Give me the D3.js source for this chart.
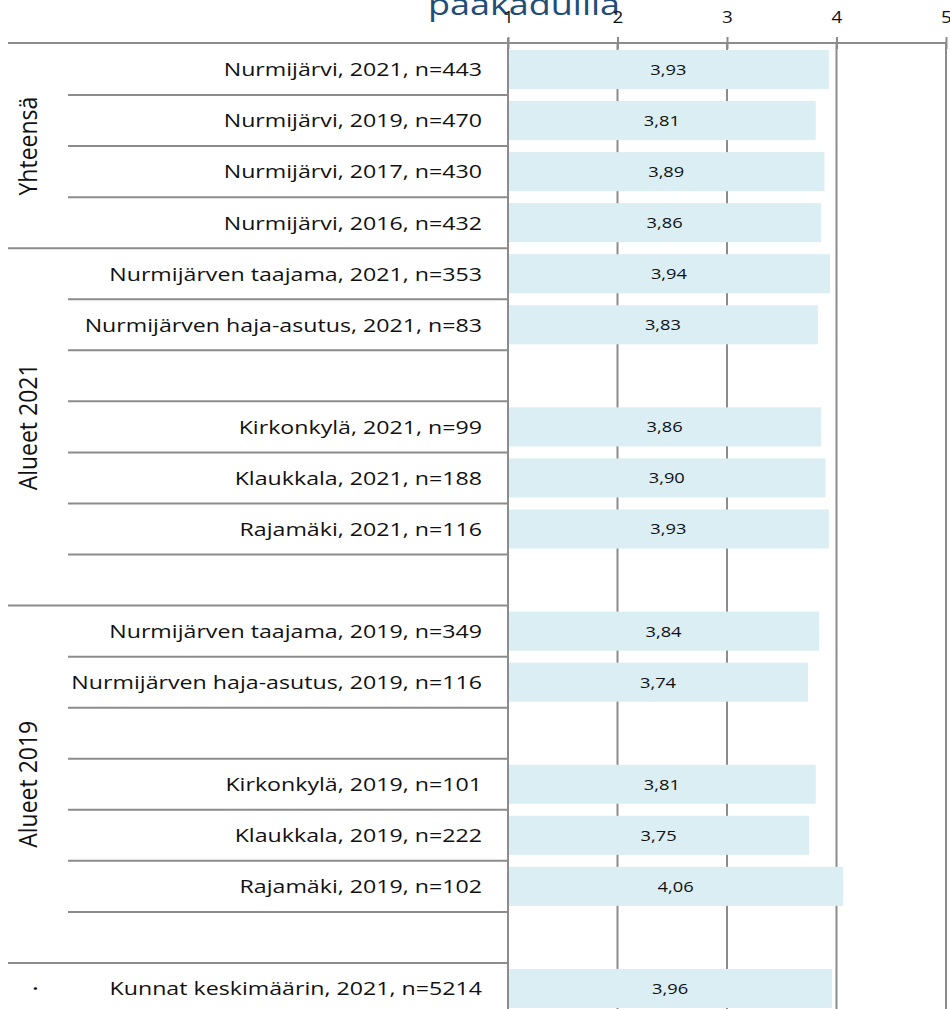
<!DOCTYPE html>
<html>
<head>
<meta charset="utf-8">
<script src="https://cdn.jsdelivr.net/npm/d3@7/dist/d3.min.js"></script>
<style>
  html, body { margin: 0; padding: 0; background: #fff; }
  svg { display: block; }
  text { font-family: "Open Sans", "Noto Sans", sans-serif; }
</style>
</head>
<body>
<svg id="chart" width="950" height="1009"></svg>
<script>
// ---- data ----
const titleText = "pääkaduilla";
const categories = [
  "Nurmijärvi, 2021, n=443",
  "Nurmijärvi, 2019, n=470",
  "Nurmijärvi, 2017, n=430",
  "Nurmijärvi, 2016, n=432",
  "Nurmijärven taajama, 2021, n=353",
  "Nurmijärven haja-asutus, 2021, n=83",
  "",
  "Kirkonkylä, 2021, n=99",
  "Klaukkala, 2021, n=188",
  "Rajamäki, 2021, n=116",
  "",
  "Nurmijärven taajama, 2019, n=349",
  "Nurmijärven haja-asutus, 2019, n=116",
  "",
  "Kirkonkylä, 2019, n=101",
  "Klaukkala, 2019, n=222",
  "Rajamäki, 2019, n=102",
  "",
  "Kunnat keskimäärin, 2021, n=5214"
];
const values = [3.93, 3.81, 3.89, 3.86, 3.94, 3.83, null, 3.86, 3.90, 3.93, null,
                3.84, 3.74, null, 3.81, 3.75, 4.06, null, 3.96];
const groupNames = ["Yhteensä", "Alueet 2021", "Alueet 2019", "."];
const groupSizes = [4, 7, 7, 1];
const tickValues = [1, 2, 3, 4, 5];

// ---- layout ----
const svg = d3.select("#chart");
const W = 950, H = 1009;
const plotLeft = 508, plotRight = 946, plotTop = 44, plotBottom = 1014;
const gray = "#8c8c8c";
const stretch = 1.22; // reference text is horizontally stretched

const x = d3.scaleLinear().domain([1, 5]).range([plotLeft, plotRight]);
const idx = d3.range(categories.length);
const yRow = d3.scaleBand().domain(idx).range([plotTop, plotBottom]).padding(0);
const yBar = d3.scaleBand().domain(idx).range([plotTop, plotBottom])
  .paddingInner(0.235).paddingOuter(0.1175);

const fmt = d3.formatLocale({decimal: ",", thousands: " ", grouping: [3], currency: ["", "€"]}).format(".2f");

// title (only lower part visible)
svg.append("text")
  .attr("transform", `translate(524,15) scale(${stretch},1)`)
  .attr("text-anchor", "middle")
  .attr("font-size", 29.5)
  .attr("fill", "#1f4e79")
  .text(titleText);

// gridlines (behind bars)
svg.append("g").selectAll("line").data(tickValues.slice(1)).join("line")
  .attr("x1", d => x(d)).attr("x2", d => x(d))
  .attr("y1", plotTop).attr("y2", H)
  .attr("stroke", gray).attr("stroke-width", 2);

// bars
svg.append("g").selectAll("rect").data(idx.filter(i => values[i] != null)).join("rect")
  .attr("x", x(1))
  .attr("y", i => yBar(i))
  .attr("width", i => x(values[i]) - x(1))
  .attr("height", yBar.bandwidth())
  .attr("fill", "#daeef3");

// value labels
svg.append("g").selectAll("text").data(idx.filter(i => values[i] != null)).join("text")
  .attr("transform", i => `translate(${(x(1) + x(values[i])) / 2},${yRow(i) + yRow.bandwidth() / 2}) scale(${stretch},1)`)
  .attr("dy", "0.36em")
  .attr("text-anchor", "middle")
  .attr("font-size", 15)
  .attr("fill", "#111")
  .text(i => fmt(values[i]));

// top axis
const axis = svg.append("g")
  .attr("transform", `translate(0,${plotTop - 1})`)
  .call(d3.axisTop(x).tickValues(tickValues).tickFormat(d3.format("d")).tickSizeOuter(0).tickSizeInner(5).tickPadding(4));
axis.select(".domain").remove();
axis.selectAll(".tick line").attr("y1", -6).attr("y2", 6).attr("stroke", gray).attr("stroke-width", 2);
axis.selectAll(".tick text")
  .attr("font-size", 15.5).attr("fill", "#111")
  .attr("font-family", "'Open Sans', sans-serif")
  .attr("y", null).attr("dy", null)
  .attr("transform", `translate(0,-20.5) scale(${stretch},1)`);
svg.append("line")
  .attr("x1", 8).attr("x2", plotRight).attr("y1", plotTop - 1).attr("y2", plotTop - 1)
  .attr("stroke", gray).attr("stroke-width", 2);

// vertical category axis
svg.append("line")
  .attr("x1", plotLeft).attr("x2", plotLeft).attr("y1", plotTop - 6).attr("y2", H)
  .attr("stroke", gray).attr("stroke-width", 2);

// row separators
const groupStarts = [];
let acc = 0;
groupSizes.forEach(s => { groupStarts.push(acc); acc += s; });
const boundaries = d3.range(1, categories.length + 1);
svg.append("g").selectAll("line").data(boundaries).join("line")
  .attr("x1", i => groupStarts.includes(i) || i === categories.length ? 8 : 68)
  .attr("x2", plotLeft)
  .attr("y1", i => yRow(i - 1) + yRow.step())
  .attr("y2", i => yRow(i - 1) + yRow.step())
  .attr("stroke", gray).attr("stroke-width", 2);

// category labels
svg.append("g").selectAll("text").data(idx).join("text")
  .attr("transform", i => `translate(482,${yRow(i) + yRow.bandwidth() / 2}) scale(${stretch},1)`)
  .attr("dy", "0.36em")
  .attr("text-anchor", "end")
  .attr("font-size", 19)
  .attr("fill", "#111")
  .text(i => categories[i]);

// group labels
svg.append("g").selectAll("text").data(groupNames).join("text")
  .attr("transform", (d, g) => {
    const y0 = yRow(groupStarts[g]);
    const y1 = yRow(groupStarts[g] + groupSizes[g] - 1) + yRow.step();
    return `translate(37,${(y0 + y1) / 2}) scale(1.1,1) rotate(-90)`;
  })
  .attr("text-anchor", "middle")
  .attr("font-size", 23)
  .attr("fill", "#111")
  .text(d => d);
</script>
</body>
</html>
